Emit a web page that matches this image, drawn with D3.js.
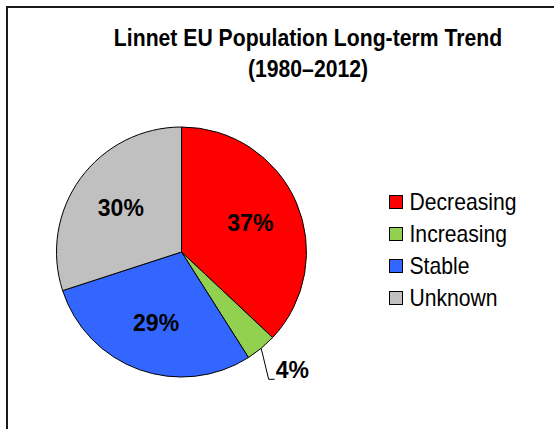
<!DOCTYPE html>
<html>
<head>
<meta charset="utf-8">
<script src="https://cdn.jsdelivr.net/npm/d3@7"></script>
<style>
  html, body { margin: 0; padding: 0; background: #fff; }
  svg { display: block; font-family: "Liberation Sans", Arial, sans-serif; }
</style>
</head>
<body>
<svg id="chart" width="554" height="429"></svg>
<script>
// ---- data ----
const titleLines = ["Linnet EU Population Long-term Trend", "(1980\u20132012)"];
const categories = ["Decreasing", "Increasing", "Stable", "Unknown"];
const values = [37, 4, 29, 30];
const colors = ["#FF0000", "#92D050", "#3366FF", "#C0C0C0"];

const svg = d3.select("#chart");
const W = 554, H = 429;

// frame (extends beyond the visible window on right/bottom)
svg.append("rect")
  .attr("x", 7).attr("y", 7)
  .attr("width", W + 20).attr("height", H + 20)
  .attr("fill", "#fff")
  .attr("stroke", "#1a1a1a")
  .attr("stroke-width", 2);

// title (slightly condensed via horizontal scale)
const titleX = 308;
const titleBase = [46, 76.5];
const titleScale = 0.865;
titleLines.forEach((t, i) => {
  svg.append("g")
    .attr("transform", `translate(${titleX},${titleBase[i]}) scale(${titleScale},1)`)
    .append("text")
    .attr("x", 0).attr("y", 0)
    .attr("text-anchor", "middle")
    .attr("font-size", 24.5)
    .attr("font-weight", "bold")
    .attr("fill", "#000")
    .text(t);
});

// pie
const cx = 181.5, cy = 252, r = 125;
const data = categories.map((c, i) => ({ cat: c, value: values[i], color: colors[i] }));
const pie = d3.pie().value(d => d.value).sort(null);
const arcs = pie(data);
const arc = d3.arc().innerRadius(0).outerRadius(r);

const g = svg.append("g").attr("transform", `translate(${cx},${cy})`);
g.selectAll("path.slice")
  .data(arcs)
  .enter().append("path")
  .attr("class", "slice")
  .attr("d", arc)
  .attr("fill", d => d.data.color)
  .attr("stroke", "#000")
  .attr("stroke-width", 1);

// labels
const labelArc = d3.arc().innerRadius(r * 0.6).outerRadius(r * 0.6);
const fmt = d => d.data.value + "%";
arcs.forEach(d => {
  const share = d.data.value / d3.sum(values);
  if (share >= 0.1) {
    const [lx, ly] = labelArc.centroid(d);
    g.append("text")
      .attr("x", lx).attr("y", ly)
      .attr("text-anchor", "middle")
      .attr("dy", "0.36em")
      .attr("font-size", 23)
      .attr("font-weight", "bold")
      .attr("fill", "#000")
      .text(fmt(d));
  } else {
    // outside label with leader line
    const mid = (d.startAngle + d.endAngle) / 2;
    const sx = r * Math.sin(mid), sy = -r * Math.cos(mid);
    const ex = sx + 7.5, ey = sy + 31;
    const hx = ex + 6;
    g.append("polyline")
      .attr("points", [[sx, sy], [ex, ey], [hx, ey]].map(p => p.join(",")).join(" "))
      .attr("fill", "none")
      .attr("stroke", "#000")
      .attr("stroke-width", 1);
    g.append("text")
      .attr("x", hx + 1).attr("y", ey - 1)
      .attr("text-anchor", "start")
      .attr("font-size", 23)
      .attr("font-weight", "bold")
      .attr("fill", "#000")
      .text(fmt(d));
  }
});

// legend
const legX = 389.5, legY0 = 195.5, legStep = 32, sw = 13;
const legScale = 0.92;
const leg = svg.append("g");
data.forEach((d, i) => {
  const y = legY0 + i * legStep;
  leg.append("rect")
    .attr("x", legX).attr("y", y)
    .attr("width", sw).attr("height", sw)
    .attr("fill", d.color)
    .attr("stroke", "#000")
    .attr("stroke-width", 1);
  leg.append("g")
    .attr("transform", `translate(409.5,${y + sw / 2}) scale(${legScale},1)`)
    .append("text")
    .attr("x", 0).attr("y", 0)
    .attr("dy", "0.36em")
    .attr("font-size", 23)
    .attr("fill", "#000")
    .text(d.cat);
});
</script>
</body>
</html>
